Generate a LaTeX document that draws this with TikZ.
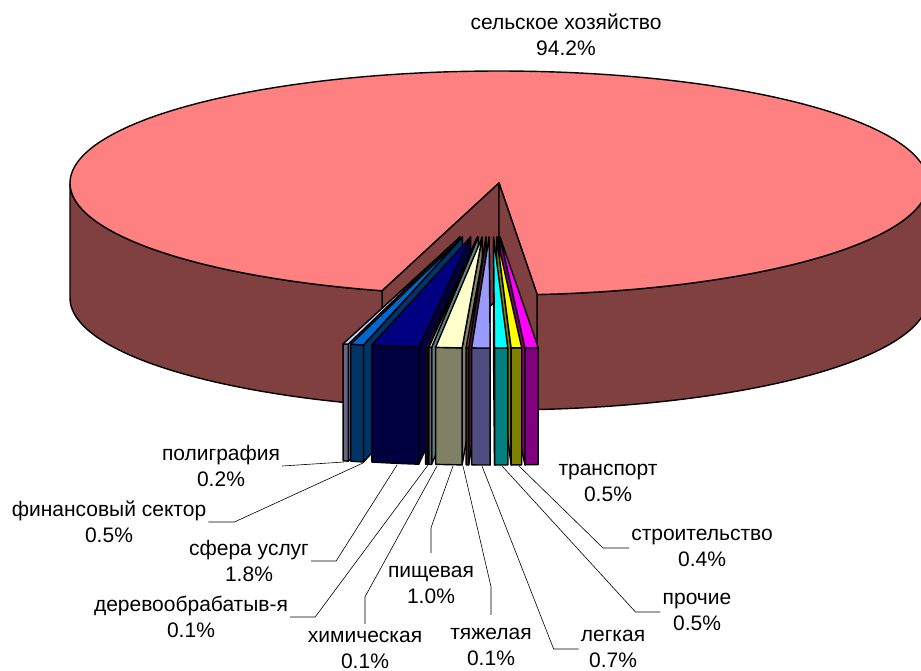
\documentclass[tikz,border=0pt]{standalone}
\usepackage{fontspec}
\setmainfont{Liberation Sans}
\definecolor{coralc}{HTML}{FF8080}
\definecolor{wallc}{HTML}{804040}
\definecolor{tPol}{HTML}{CCCCFF}\definecolor{fPol}{HTML}{666680}
\definecolor{tFin}{HTML}{0066CC}\definecolor{fFin}{HTML}{003366}
\definecolor{tSfe}{HTML}{000080}\definecolor{fSfe}{HTML}{000040}
\definecolor{tDer}{HTML}{660066}\definecolor{fDer}{HTML}{330033}
\definecolor{tHim}{HTML}{CCFFFF}\definecolor{fHim}{HTML}{668080}
\definecolor{tPis}{HTML}{FFFFCC}\definecolor{fPis}{HTML}{808066}
\definecolor{tTya}{HTML}{993366}\definecolor{fTya}{HTML}{4D1A33}
\definecolor{tLeg}{HTML}{9999FF}\definecolor{fLeg}{HTML}{4D4D80}
\definecolor{tPro}{HTML}{00FFFF}\definecolor{fPro}{HTML}{008080}
\definecolor{tStr}{HTML}{FFFF00}\definecolor{fStr}{HTML}{808000}
\definecolor{tTra}{HTML}{FF00FF}\definecolor{fTra}{HTML}{800080}
% #1 t1, #2 t2, #3 top colour, #4 front colour, #5 angle of visible side face
\newcommand\drawslice[5]{%
  \pgfmathsetmacro\sMid{(#1+#2)/2}%
  \pgfmathsetmacro\sAx{491.4+118*cos(\sMid)}%
  \def\sAy{237}%
  \filldraw[piece,fill=#4] ({\sAx},{\sAy}) -- ({\sAx+429*cos(#5)},{\sAy+111*sin(#5)}) -- ({\sAx+429*cos(#5)},{\sAy+117+111*sin(#5)}) -- ({\sAx},{\sAy+117}) -- cycle;
  \filldraw[piece,fill=#4] plot[domain=#2:#1,samples=8] ({\sAx+429*cos(\x)},{\sAy+111*sin(\x)}) -- plot[domain=#1:#2,samples=8] ({\sAx+429*cos(\x)},{\sAy+117+111*sin(\x)}) -- cycle;
  \filldraw[piece,fill=#3] ({\sAx},{\sAy}) -- plot[domain=#2:#1,samples=8] ({\sAx+429*cos(\x)},{\sAy+111*sin(\x)}) -- cycle;
}
\begin{document}
\begin{tikzpicture}[x=1pt,y=-1pt,
  piece/.style={draw=black,line width=1.4pt,line join=round},
  lbl/.style={font=\fontsize{21}{26.5}\selectfont,align=center,inner sep=2pt},
  leader/.style={draw=black,line width=0.6pt}]
\useasboundingbox (0,0) rectangle (921,670);
\clip (0,0) rectangle (921,670);
% side walls of the large slice
\filldraw[piece,fill=wallc] plot[domain=105.8:180,samples=60] ({499+429*cos(\x)},{183+112*sin(\x)}) -- plot[domain=180:105.8,samples=60] ({499+429*cos(\x)},{298+112*sin(\x)}) -- cycle;
\filldraw[piece,fill=wallc] plot[domain=0:84.9,samples=60] ({499+429*cos(\x)},{183+112*sin(\x)}) -- plot[domain=84.9:0,samples=60] ({499+429*cos(\x)},{298+112*sin(\x)}) -- cycle;
% top of the large slice
\filldraw[piece,fill=coralc] (499,183) -- plot[domain=105.8:444.9,samples=240] ({499+429*cos(\x)},{183+112*sin(\x)}) -- cycle;
% cut faces
\coordinate (C) at (499,183);
\coordinate (Cb) at (499,298);
\coordinate (L) at ({499+429*cos(105.8)},{183+112*sin(105.8)});
\coordinate (R) at ({499+429*cos(84.9)},{183+112*sin(84.9)});
\filldraw[piece,fill=wallc] (C) -- (L) -- ++(0,115) -- (Cb) -- cycle;
\filldraw[piece,fill=wallc] (C) -- (R) -- ++(0,115) -- (Cb) -- cycle;
% exploded small slices
\drawslice{105.10}{105.80}{tPol}{fPol}{105.10}
\drawslice{103.33}{105.10}{tFin}{fFin}{103.33}
\drawslice{96.95}{103.33}{tSfe}{fSfe}{96.95}
\drawslice{96.60}{96.95}{tDer}{fDer}{96.60}
\drawslice{96.24}{96.60}{tHim}{fHim}{96.24}
\drawslice{92.69}{96.24}{tPis}{fPis}{92.69}
\drawslice{92.34}{92.69}{tTya}{fTya}{92.34}
\drawslice{84.90}{86.67}{tTra}{fTra}{86.67}
\drawslice{86.67}{88.09}{tStr}{fStr}{88.09}
\drawslice{88.09}{89.86}{tPro}{fPro}{89.86}
\drawslice{89.86}{92.34}{tLeg}{fLeg}{89.86}
% leader end points
\coordinate (apol) at (344,462);
\coordinate (afin) at (363,463);
\coordinate (asfe) at (397,465);
\coordinate (ader) at (428,465);
\coordinate (ahim) at (437,466);
\coordinate (apis) at (453,466);
\coordinate (atya) at (463,466);
\coordinate (aleg) at (482,466);
\coordinate (apro) at (502,466);
\coordinate (astr) at (519,466);
% labels
\node[lbl] (lsel) at (566,35) {сельское хозяйство\\94.2\%};
\node[lbl] (lpol) at (221,466) {полиграфия\\0.2\%};
\node[lbl] (lfin) at (109,522) {финансовый сектор\\0.5\%};
\node[lbl] (lsfe) at (249,561) {сфера услуг\\1.8\%};
\node[lbl] (lder) at (191,617) {деревообрабатыв-я\\0.1\%};
\node[lbl] (lhim) at (365,650) {химическая\\0.1\%};
\node[lbl] (lpis) at (431,585) {пищевая\\1.0\%};
\node[lbl] (ltya) at (491,647) {тяжелая\\0.1\%};
\node[lbl] (lleg) at (613,649) {легкая\\0.7\%};
\node[lbl] (lpro) at (697,612) {прочие\\0.5\%};
\node[lbl] (lstr) at (702,548) {строительство\\0.4\%};
\node[lbl] (ltra) at (608,483) {транспорт\\0.5\%};
% leader lines
\draw[leader] (lpol.east) -- (apol);
\draw[leader] (lfin.east) -- ++(26,0) -- (afin);
\draw[leader] (lsfe.east) -- ++(25,0) -- (asfe);
\draw[leader] (lder.east) -- ++(25,0) -- (ader);
\draw[leader] ([yshift=5pt]lhim.north) -- ++(0,-27) -- (ahim);
\draw[leader] ([yshift=11pt]lpis.north) -- ++(0,-25) -- (apis);
\draw[leader] ([yshift=11pt]ltya.north) -- ++(0,-28) -- (atya);
\draw[leader] (lleg.west) -- ++(-25,0) -- (aleg);
\draw[leader] (lpro.west) -- ++(-25,0) -- (apro);
\draw[leader] (lstr.west) -- ++(-26,0) -- (astr);
\end{tikzpicture}
\end{document}
